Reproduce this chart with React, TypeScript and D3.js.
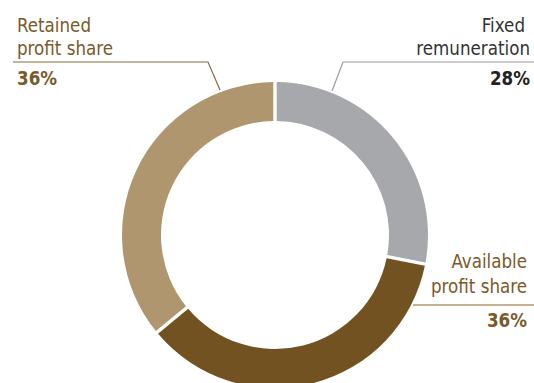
import React from "react";
import * as d3 from "d3";

const categories = ["Fixed remuneration", "Available profit share", "Retained profit share"];
const values = [28, 36, 36];
const colors = ["#a7a8ab", "#735222", "#b0966f"];

const W = 534;
const H = 383;
const cx = 275;
const cy = 235;
const outerR = 153;
const innerR = 114;
const font = "'DejaVu Sans Condensed', 'Liberation Sans Narrow', sans-serif";
const SX = 0.93;

function T({ x, y, children, anchor = "start", bold = false, fill, size = 20 }: any) {
  return (
    <text
      transform={`translate(${x},${y}) scale(${SX},1)`}
      fontSize={size}
      fontWeight={bold ? "bold" : "normal"}
      fill={fill}
      textAnchor={anchor}
    >
      {children}
    </text>
  );
}

export default function App() {
  const pie = d3.pie<number>().sort(null).value((d) => d).padAngle(0.018);
  const arcs = pie(values);
  const arc = d3.arc<d3.PieArcDatum<number>>().innerRadius(innerR).outerRadius(outerR);
  const fmt = (v: number) => `${v}%`;
  const brown = "#7a5a2a";
  return (
    <svg width={W} height={H} style={{ position: "absolute", left: 0, top: 0, fontFamily: font }}>
      <g transform={`translate(${cx},${cy})`}>
        {arcs.map((a, i) => (
          <path key={categories[i]} d={arc(a) || ""} fill={colors[i]} />
        ))}
      </g>
      {/* Retained label */}
      <polyline points="13,62 208,62 220,90" fill="none" stroke="#8a6a3a" strokeWidth={1.2} />
      <T x={17} y={32} fill={brown}>Retained</T>
      <T x={17} y={55} fill={brown}>profit share</T>
      <T x={17} y={85} fill={brown} bold>{fmt(values[2])}</T>
      {/* Fixed label */}
      <polyline points="534,62 343,62 332,91" fill="none" stroke="#9a9a9a" strokeWidth={1.2} />
      <T x={525} y={32} fill="#333" anchor="end">Fixed</T>
      <T x={530} y={55} fill="#333" anchor="end">remuneration</T>
      <T x={530} y={85} fill="#222" anchor="end" bold>{fmt(values[0])}</T>
      {/* Available label */}
      <line x1={413} y1={305} x2={534} y2={305} stroke="#b0966f" strokeWidth={1.5} />
      <T x={527} y={268} fill={brown} anchor="end">Available</T>
      <T x={527} y={293} fill={brown} anchor="end">profit share</T>
      <T x={527} y={327} fill={brown} anchor="end" bold>{fmt(values[1])}</T>
    </svg>
  );
}
